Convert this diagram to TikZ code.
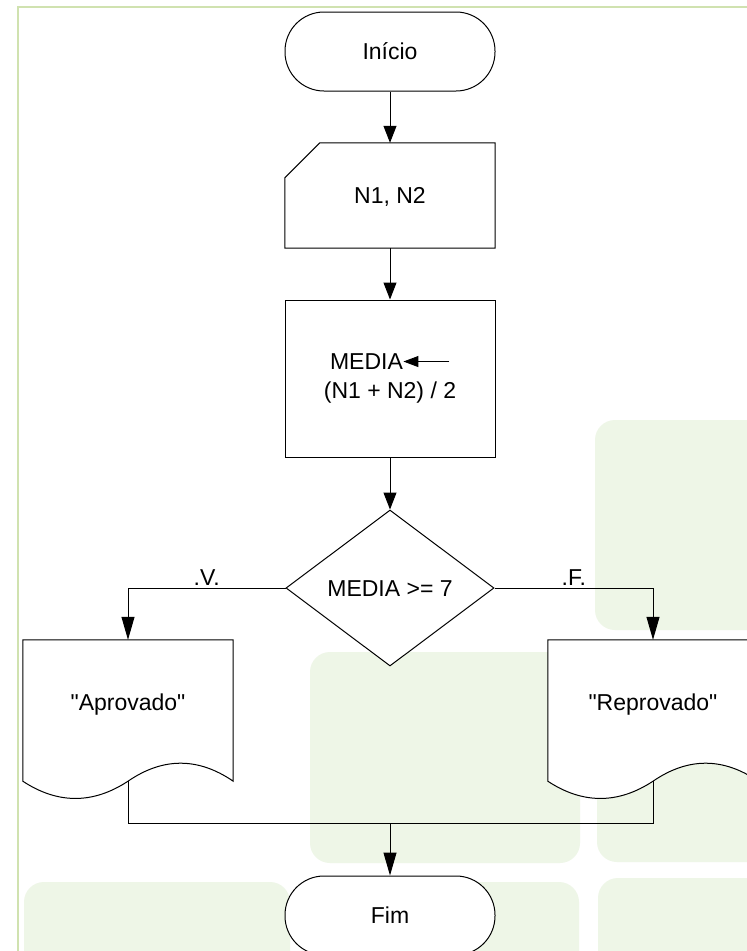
\documentclass[tikz,border=0pt]{standalone}
\usepackage{fontspec}
\setmainfont{Liberation Sans}
\usetikzlibrary {shapes.geometric}
\usetikzlibrary {arrows.meta}
\usetikzlibrary {calc}

\definecolor{framegreen}{RGB}{208,226,176}
\definecolor{bggreen}{RGB}{238,246,231}

\pgfdeclarelayer{back}
\pgfdeclarelayer{shape}
\pgfsetlayers{back,shape,main}

\tikzset{
	flow/.style={draw=black, line width=1pt},
	arr/.style={flow, -{Triangle[length=17pt,width=13pt]}},
	arrlong/.style={flow, -{Triangle[length=23pt,width=13pt]}},
	terminal/.style={flow, fill=white, rounded corners=39pt, minimum width=210pt, minimum height=79pt, inner sep=0pt, text height=16.5pt, text depth=0pt},
	iobox/.style={minimum width=210pt, minimum height=105pt, inner sep=0pt, text height=16.5pt, text depth=0pt},
	process/.style={flow, fill=white, minimum width=210pt, minimum height=157pt, inner sep=0pt, align=center},
	decision/.style={flow, fill=white, diamond, minimum width=208pt, minimum height=156pt, inner sep=0pt, text height=16.5pt, text depth=0pt},
	docbox/.style={minimum width=210pt, minimum height=141pt, inner sep=0pt, text height=16.5pt, text depth=17pt},
	branch/.style={inner sep=2pt, text height=16.5pt, text depth=0pt},
	bgbox/.style={fill=bggreen, rounded corners=20pt},
}

\begin{document}
\begin{tikzpicture}[x=1pt, y=-1pt, font=\fontsize{23}{29}\selectfont]
	\useasboundingbox (0,0) rectangle (747,951);
	% background
	\begin{pgfonlayer}{back}
		\fill[white] (0,0) rectangle (747,951);
		\fill[bgbox] (595,420) rectangle (770,630);
		\fill[bgbox] (310,652) rectangle (580,863);
		\fill[bgbox] (597,645) rectangle (770,862);
		\fill[bgbox] (24,882) rectangle (290,990);
		\fill[bgbox] (310,882) rectangle (579,990);
		\fill[bgbox] (598,878) rectangle (770,990);
		\draw[framegreen, line width=2pt] (18,960) -- (18,7) -- (760,7);
	\end{pgfonlayer}

	% blocks
	\node[terminal] (start) at (390,51.5) {Início};
	\node[iobox] (input) at (390,195.5) {N1, N2};
	\node[process] (calc) at (390,378.5) {MEDIA\tikz[baseline=0pt, x=1pt, y=1pt]{\draw[line width=1pt, -{Triangle[length=15pt,width=11pt]}] (48,8) -- (2,8);}\\(N1 + N2) / 2};
	\node[decision] (test) at (390,588) {MEDIA >= 7};
	\node[docbox] (aprov) at (128,710.5) {\textquotedbl Aprovado\textquotedbl};
	\node[docbox] (reprov) at (653,710.5) {\textquotedbl Reprovado\textquotedbl};
	\node[terminal] (fim) at (390,915.5) {Fim};

	% outlines of input and documents
	\begin{pgfonlayer}{shape}
		\draw[flow, fill=white] ($(input.north west)+(35,0)$) -- (input.north east) -- (input.south east) -- (input.south west) -- ($(input.north west)+(0,35)$) -- cycle;
		\foreach \d in {aprov,reprov}
			\draw[flow, fill=white] (\d.south west) -- (\d.north west) -- (\d.north east) -- (\d.south east)
				.. controls ($(\d.south east)+(-35,-24)$) and ($(\d.south)+(35,-24)$) .. (\d.south)
				.. controls ($(\d.south)+(-35,23)$) and ($(\d.south west)+(35,23)$) .. (\d.south west) -- cycle;
	\end{pgfonlayer}

	% connectors
	\coordinate (join) at (390,823);
	\draw[arr] (start) -- (input);
	\draw[arr] (input) -- (calc);
	\draw[arr] (calc) -- (test);
	\draw[arrlong] (test.west) -| node[branch, pos=0.25, above] {.V.} (aprov.north);
	\draw[arrlong] (test.east) -| node[branch, pos=0.25, above] {.F.} (reprov.north);
	\draw[flow] (aprov.south) |- (join) -| (reprov.south);
	\draw[arrlong] (join) -- (fim);
\end{tikzpicture}
\end{document}
